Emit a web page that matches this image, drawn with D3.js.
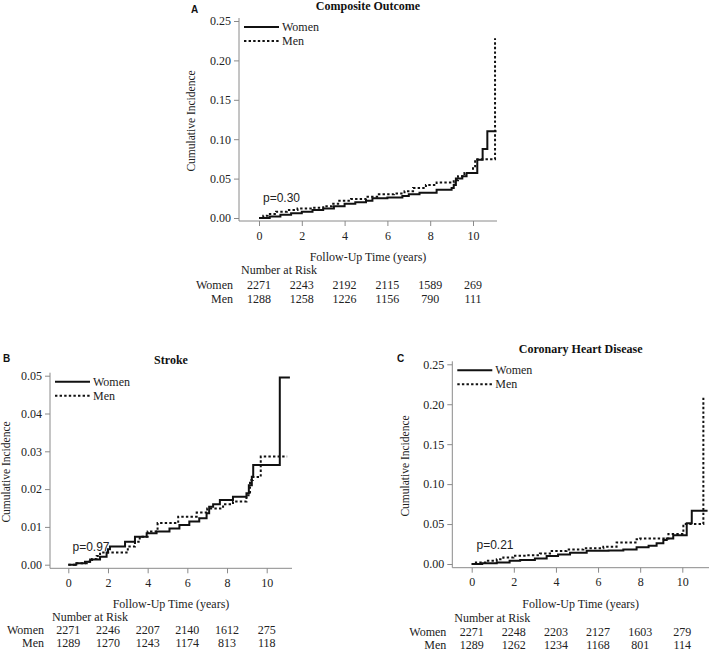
<!DOCTYPE html>
<html><head><meta charset="utf-8">
<script src="https://cdn.jsdelivr.net/npm/d3@7"></script>
<style>body{margin:0;background:#fff}svg{display:block}</style>
</head><body><svg id="chart" width="709" height="650"></svg>
<script>
// ---------- data ----------
const timeTicks = [0, 2, 4, 6, 8, 10];
const yTicksA = [0, 0.05, 0.10, 0.15, 0.20, 0.25];
const yTicksB = [0, 0.01, 0.02, 0.03, 0.04, 0.05];
const yTicksC = [0, 0.05, 0.10, 0.15, 0.20, 0.25];
const seriesNames = ["Women", "Men"];
const titles = ["Composite Outcome", "Stroke", "Coronary Heart Disease"];
const panelLetters = ["A", "B", "C"];
const pValues = ["p=0.30", "p=0.97", "p=0.21"];
const riskTitle = "Number at Risk";
const xTitle = "Follow-Up Time (years)";
const yTitle = "Cumulative Incidence";

// step curves: [time (years), cumulative incidence]
const womenA = [[0,0],[0.5,0.002],[1,0.004],[1.5,0.006],[2,0.008],[2.5,0.010],[3,0.012],[3.5,0.015],[4,0.018],[4.5,0.020],[5,0.022],[5.3,0.025],[6,0.026],[6.7,0.028],[7,0.030],[7.5,0.032],[8.3,0.036],[9,0.038],[9.1,0.042],[9.2,0.050],[9.5,0.053],[9.7,0.057],[10.2,0.074],[10.45,0.0875],[10.67,0.11]];
const menA = [[0,0],[0.2,0.003],[0.4,0.005],[0.8,0.008],[1.3,0.010],[1.8,0.012],[2.5,0.013],[3.0,0.015],[3.4,0.018],[3.7,0.022],[4.3,0.024],[5,0.027],[5.6,0.030],[6.3,0.031],[6.8,0.034],[7.2,0.038],[7.8,0.042],[8.3,0.045],[9.1,0.048],[9.3,0.053],[9.6,0.057],[10.0,0.063],[10.1,0.0745],[11.03,0.228]];
const endTimesA = [11.1, 11.03];

const womenB = [[0,0],[0.4,0.0004],[0.84,0.0008],[1.1,0.0014],[1.6,0.0021],[1.93,0.0032],[2.0,0.0041],[2.1,0.0048],[2.86,0.0061],[3.36,0.0074],[3.95,0.0083],[4.45,0.0088],[5.1,0.0096],[5.6,0.0105],[6.1,0.0114],[6.6,0.0123],[6.97,0.0136],[7.1,0.0153],[7.3,0.0160],[7.64,0.0171],[8.3,0.018],[8.98,0.0189],[9.1,0.021],[9.25,0.0233],[9.32,0.0264],[10.66,0.0495]];
const menB = [[0,0],[0.34,0.0004],[0.93,0.0008],[1.2,0.0015],[1.43,0.0023],[1.6,0.0032],[3.0,0.0048],[3.36,0.0061],[3.6,0.0074],[4.0,0.0088],[4.5,0.011],[5.54,0.0127],[6.47,0.0138],[7.0,0.0149],[7.8,0.016],[8.3,0.0167],[8.98,0.0184],[9.16,0.0224],[9.3,0.0232],[9.7,0.0286]];
const endTimesB = [11.17, 11.03];

const womenC = [[0,0],[0.5,0.001],[1.19,0.002],[1.8,0.004],[2.3,0.005],[3,0.007],[3.56,0.010],[4.1,0.012],[4.67,0.014],[5.46,0.0167],[6.5,0.017],[7.2,0.018],[7.83,0.021],[8.4,0.023],[8.78,0.026],[9.1,0.030],[9.26,0.032],[9.57,0.036],[10.21,0.051],[10.45,0.0667]];
const menC = [[0,0],[0.2,0.002],[0.7,0.004],[1.19,0.006],[1.5,0.008],[1.98,0.0104],[2.6,0.011],[3.24,0.013],[3.72,0.0163],[4.5,0.018],[5.3,0.0196],[6.25,0.0217],[6.88,0.027],[7.83,0.031],[8.0,0.032],[9.34,0.0375],[10.05,0.05],[11.0,0.209]];
const endTimesC = [11.2, 11.0];

const riskWomenA = [2271, 2243, 2192, 2115, 1589, 269];
const riskMenA   = [1288, 1258, 1226, 1156, 790, 111];
const riskWomenB = [2271, 2246, 2207, 2140, 1612, 275];
const riskMenB   = [1289, 1270, 1243, 1174, 813, 118];
const riskWomenC = [2271, 2248, 2203, 2127, 1603, 279];
const riskMenC   = [1289, 1262, 1234, 1168, 801, 114];

// ---------- layout (pixels) ----------
const layouts = [
  {xL:239, xR:497, x0:259, x10:473, yZero:218, yTopPx:21, axisY:221, yMax:0.25,
   titleY:10, letterX:191, letterY:13, ylabX:191, rowStep:[270,285,299], pX:263, pY:202},
  {xL:50, xR:292, x0:68.3, x10:266.7, yZero:564.7, yTopPx:375.7, axisY:568.3, yMax:0.05,
   titleY:364, letterX:3, letterY:362, ylabX:6, rowStep:[617,630,643], pX:72.5, pY:551},
  {xL:452.3, xR:709, x0:471.7, x10:682.3, yZero:564, yTopPx:364.3, axisY:567.7, yMax:0.25,
   titleY:352.5, letterX:397, letterY:362, ylabX:405, rowStep:[618,631.5,644.5], pX:476.5, pY:548.5}
];

const panels = [
  {curves:[womenA, menA], ends:endTimesA, yTicks:yTicksA, risk:[riskWomenA, riskMenA]},
  {curves:[womenB, menB], ends:endTimesB, yTicks:yTicksB, risk:[riskWomenB, riskMenB]},
  {curves:[womenC, menC], ends:endTimesC, yTicks:yTicksC, risk:[riskWomenC, riskMenC]}
];

const svg = d3.select("#chart");
const SERIF = "Liberation Serif";
const SANS = "Liberation Sans";
const axisColor = "#8a8a8a";
const textColor = "#222";
const dashes = [null, "2.4,2.2"];

function txt(sel, family, size, weight) {
  return sel.attr("font-family", family).style("font-family", family)
    .style("font-size", size + "px").style("font-weight", weight || "normal");
}

panels.forEach((p, i) => {
  const L = layouts[i];
  const x = d3.scaleLinear().domain([0, 10]).range([L.x0, L.x10]);
  const y = d3.scaleLinear().domain([0, L.yMax]).range([L.yZero, L.yTopPx]);
  const g = svg.append("g");

  // axes lines
  g.append("line").attr("x1", L.xL).attr("x2", L.xR).attr("y1", L.axisY).attr("y2", L.axisY)
    .attr("stroke", axisColor).attr("stroke-width", 1);
  g.append("line").attr("x1", L.xL).attr("x2", L.xL).attr("y1", L.axisY).attr("y2", L.yTopPx - 3)
    .attr("stroke", axisColor).attr("stroke-width", 1);

  const yAxis = d3.axisLeft(y).tickValues(p.yTicks).tickFormat(d3.format(".2f")).tickSize(5).tickPadding(3);
  const ya = g.append("g").attr("transform", `translate(${L.xL},0)`).call(yAxis);
  const xAxis = d3.axisBottom(x).tickValues(timeTicks).tickFormat(d3.format("d")).tickSize(5).tickPadding(5);
  const xa = g.append("g").attr("transform", `translate(0,${L.axisY})`).call(xAxis);
  [ya, xa].forEach(a => {
    a.attr("font-family", SERIF);
    a.select(".domain").remove();
    a.selectAll(".tick line").attr("stroke", axisColor);
    txt(a.selectAll(".tick text").attr("fill", textColor), SERIF, 12);
  });

  // curves
  const line = d3.line().x(d => x(d[0])).y(d => y(d[1])).curve(d3.curveStepAfter);
  p.curves.forEach((c, k) => {
    const pts = c.concat([[p.ends[k], c[c.length - 1][1]]]);
    g.append("path").datum(pts).attr("d", line).attr("fill", "none")
      .attr("stroke", "#111").attr("stroke-width", 2)
      .attr("stroke-dasharray", dashes[k]);
  });

  // legend
  seriesNames.forEach((s, k) => {
    const ly = L.yTopPx + 6 + k * 14;
    g.append("line").attr("x1", L.xL + 5).attr("x2", L.xL + 40).attr("y1", ly).attr("y2", ly)
      .attr("stroke", "#111").attr("stroke-width", 2).attr("stroke-dasharray", dashes[k]);
    txt(g.append("text").attr("x", L.xL + 43).attr("y", ly + 4).text(s).attr("fill", textColor), SERIF, 12);
  });

  // title & letter
  txt(g.append("text").attr("x", (L.xL + L.xR) / 2).attr("y", L.titleY).attr("text-anchor", "middle")
    .text(titles[i]).attr("fill", "#111"), SERIF, 12, "bold");
  txt(g.append("text").attr("x", L.letterX).attr("y", L.letterY).text(panelLetters[i]).attr("fill", "#111"),
    SANS, 10, "bold");

  // y title
  const yc = (L.axisY + L.yTopPx) / 2;
  txt(g.append("text").attr("transform", `translate(${L.ylabX + 4},${yc}) rotate(-90)`).attr("text-anchor", "middle")
    .text(yTitle).attr("fill", textColor), SERIF, 11.5);

  // x title
  txt(g.append("text").attr("x", (L.xL + L.xR) / 2).attr("y", L.axisY + 40).attr("text-anchor", "middle")
    .text(xTitle).attr("fill", textColor), SERIF, 12);

  // p value
  txt(g.append("text").attr("x", L.pX).attr("y", L.pY).text(pValues[i]).attr("fill", textColor), SANS, 12);

  // risk table
  txt(g.append("text").attr("x", L.xL + 2).attr("y", L.rowStep[0] + 4).text(riskTitle).attr("fill", textColor), SERIF, 12);
  p.risk.forEach((row, k) => {
    const ry = L.rowStep[k + 1] + 4;
    txt(g.append("text").attr("x", L.xL - 6).attr("y", ry).attr("text-anchor", "end").text(seriesNames[k])
      .attr("fill", textColor), SERIF, 12);
    row.forEach((v, j) => {
      txt(g.append("text").attr("x", x(timeTicks[j])).attr("y", ry).attr("text-anchor", "middle").text(v)
        .attr("fill", textColor), SERIF, 12);
    });
  });
});
</script></body></html>
